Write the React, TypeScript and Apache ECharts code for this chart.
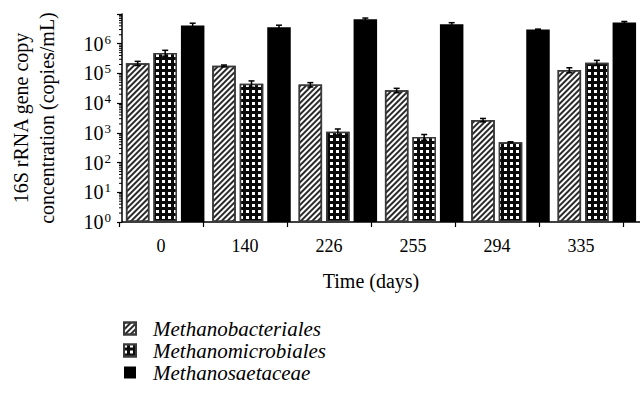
import React, { useEffect, useRef } from "react";
import * as echarts from "echarts";

const CATEGORIES = ["0", "140", "226", "255", "294", "335"];
const SERIES_NAMES = ["Methanobacteriales", "Methanomicrobiales", "Methanosaetaceae"];
const BACT = [2.2e5, 1.8e5, 4.2e4, 2.7e4, 2.7e3, 1.3e5];
const BACT_ERR = [3.5e4, 1.2e4, 7e3, 4.5e3, 3.5e2, 2.5e4];
const MICRO = [4.9e5, 4.5e4, 1.1e3, 7.2e2, 4.8e2, 2.3e5];
const MICRO_ERR = [1.1e5, 1.1e4, 2.5e2, 1.6e2, 2e1, 4.5e4];
const SAET = [4.1e6, 3.6e6, 6.6e6, 4.5e6, 3.0e6, 5.2e6];
const SAET_ERR = [8e5, 6e5, 7e5, 6e5, 1e5, 4e5];
const Y_MIN = 1;
const Y_MAX = 1e7;
const MINOR_STEPS = [2, 3, 4, 5, 6, 7, 8, 9];
const DECADES = [1, 10, 100, 1e3, 1e4, 1e5, 1e6];

const FONT = "'Liberation Serif', 'Times New Roman', serif";
const BAR_W = 23.5;
const BAR_GAP_PX = 4;

export default function App() {
  const ref = useRef<HTMLDivElement>(null);
  useEffect(() => {
    if (!ref.current) return;
    const chart = echarts.init(ref.current, null, { renderer: "svg" });

    const minorData: number[][] = [];
    DECADES.forEach((d) => MINOR_STEPS.forEach((s) => minorData.push([0, d * s])));

    const errData: number[][] = [];
    const groups = [
      [BACT, BACT_ERR],
      [MICRO, MICRO_ERR],
      [SAET, SAET_ERR],
    ];
    groups.forEach(([vals, errs], k) => {
      vals.forEach((v, i) => errData.push([i, k, v - errs[i], v + errs[i]]));
    });

    const option: any = {
      animation: false,
      grid: [
        { left: 119, right: 0, top: 14, bottom: 174 },
        { left: 119, width: 504, top: 14, bottom: 174 },
      ],
      xAxis: [
        {
          type: "category",
          gridIndex: 0,
          data: CATEGORIES,
          axisLine: { lineStyle: { color: "#000", width: 1.5 } },
          axisTick: { show: false },
          axisLabel: { show: false },
        },
        {
          type: "category",
          gridIndex: 1,
          data: CATEGORIES,
          axisLine: { show: false },
          axisTick: { show: true, length: 5, lineStyle: { color: "#000", width: 1.2 } },
          axisLabel: { fontFamily: FONT, fontSize: 18, color: "#000", margin: 15 },
          name: "Time (days)",
          nameLocation: "middle",
          nameGap: 49,
          nameTextStyle: { fontFamily: FONT, fontSize: 20, color: "#000" },
        },
      ],
      yAxis: [
        {
          type: "log",
          gridIndex: 0,
          min: Y_MIN,
          max: Y_MAX,
          logBase: 10,
          axisLine: { show: true, lineStyle: { color: "#000", width: 1.5 } },
          axisTick: { show: true, length: 5, lineStyle: { color: "#000", width: 1.2 } },
          splitLine: { show: false },
          axisLabel: {
            margin: 11,
            formatter: (v: number) => {
              const e = Math.round(Math.log10(v));
              if (e >= 7) return "";
              return `{b|10}{s|${e}}`;
            },
            rich: {
              b: { fontFamily: FONT, fontSize: 20, color: "#000" },
              s: { fontFamily: FONT, fontSize: 13, color: "#000", verticalAlign: "bottom", padding: [0, 0, 9, 1] },
            },
          },
          name: "16S rRNA gene copy\nconcentration (copies/mL)",
          nameLocation: "middle",
          nameGap: 62,
          nameTextStyle: { fontFamily: FONT, fontSize: 20, color: "#000", lineHeight: 26 },
        },
        { type: "value", gridIndex: 1, min: 0, max: 1, show: false },
      ],
      legend: {
        orient: "vertical",
        left: 118,
        top: 313,
        itemWidth: 12,
        itemHeight: 12,
        itemGap: 1,
        icon: "rect",
        data: SERIES_NAMES,
        textStyle: { fontFamily: FONT, fontStyle: "italic", fontSize: 21, color: "#000", lineHeight: 21, padding: [0, 0, 0, 12] },
      },
      series: [
        {
          name: SERIES_NAMES[0],
          type: "bar",
          xAxisIndex: 0,
          yAxisIndex: 0,
          data: BACT,
          barWidth: BAR_W,
          barGap: `${(BAR_GAP_PX / BAR_W) * 100}%`,
          itemStyle: {
            color: "#ffffff",
            borderColor: "#3a3a3a",
            borderWidth: 1.5,
            decal: {
              symbol: "rect",
              symbolSize: 1,
              dashArrayX: [1, 0],
              dashArrayY: [1.1, 2],
              rotation: -Math.PI / 4,
              color: "#2a2a2a",
            },
          },
        },
        {
          name: SERIES_NAMES[1],
          type: "bar",
          xAxisIndex: 0,
          yAxisIndex: 0,
          data: MICRO,
          barWidth: BAR_W,
          barGap: `${(BAR_GAP_PX / BAR_W) * 100}%`,
          itemStyle: {
            color: "#0a0a0a",
            borderColor: "#3a3a3a",
            borderWidth: 1.5,
            decal: {
              symbol: "rect",
              symbolSize: 1,
              dashArrayX: [3, 2.4],
              dashArrayY: [3, 2.4],
              rotation: 0,
              color: "#ffffff",
            },
          },
        },
        {
          name: SERIES_NAMES[2],
          type: "bar",
          xAxisIndex: 0,
          yAxisIndex: 0,
          data: SAET,
          barWidth: BAR_W,
          barGap: `${(BAR_GAP_PX / BAR_W) * 100}%`,
          itemStyle: { color: "#000000" },
        },
        {
          type: "custom",
          xAxisIndex: 0,
          yAxisIndex: 0,
          data: errData,
          encode: { x: 0, y: [2, 3] },
          z: 5,
          renderItem: (params: any, api: any) => {
            const cat = api.value(0);
            const k = api.value(1);
            const hiP = api.coord([cat, api.value(3)]);
            const loP = api.coord([cat, api.value(2)]);
            const x = hiP[0] + (k - 1) * (BAR_W + BAR_GAP_PX);
            const style = { stroke: "#000", lineWidth: 1.5 };
            return {
              type: "group",
              children: [
                { type: "line", shape: { x1: x, y1: hiP[1], x2: x, y2: loP[1] }, style },
                { type: "line", shape: { x1: x - 3, y1: hiP[1], x2: x + 3, y2: hiP[1] }, style },
                { type: "line", shape: { x1: x - 3, y1: loP[1], x2: x + 3, y2: loP[1] }, style },
              ],
            };
          },
        },
        {
          type: "custom",
          xAxisIndex: 0,
          yAxisIndex: 0,
          data: minorData,
          encode: { x: 0, y: 1 },
          clip: false,
          silent: true,
          renderItem: (params: any, api: any) => {
            const cs = params.coordSys;
            const p = api.coord([0, api.value(1)]);
            return {
              type: "line",
              shape: { x1: cs.x - 3, y1: p[1], x2: cs.x, y2: p[1] },
              style: { stroke: "#000", lineWidth: 1 },
            };
          },
        },
      ],
    };
    chart.setOption(option);
    return () => chart.dispose();
  }, []);
  return <div ref={ref} style={{ position: "absolute", left: 0, top: 0, width: 640, height: 396 }} />;
}
